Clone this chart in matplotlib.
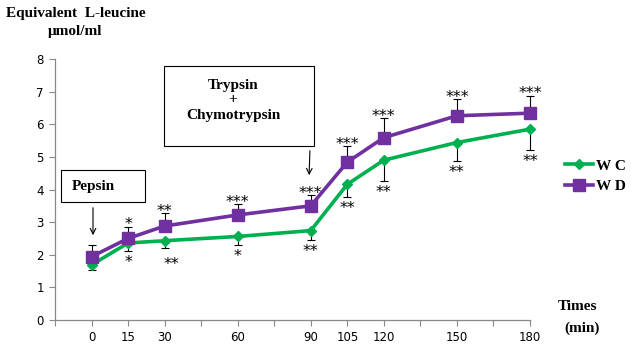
import numpy as np
import matplotlib
matplotlib.use("Agg")
import matplotlib.pyplot as plt
from matplotlib.patches import Rectangle

# Sampling times (min)
times = [0, 15, 30, 60, 90, 105, 120, 150, 180]

# Equivalent L-leucine (umol/ml)
wc = [1.69, 2.36, 2.43, 2.56, 2.74, 4.16, 4.90, 5.44, 5.85]
wd = [1.94, 2.50, 2.88, 3.22, 3.50, 4.84, 5.59, 6.26, 6.34]

# error bars: WC drawn downward, WD drawn upward
wc_err = [0.16, 0.24, 0.22, 0.27, 0.29, 0.40, 0.64, 0.56, 0.64]
wd_err = [0.37, 0.36, 0.39, 0.33, 0.33, 0.50, 0.60, 0.51, 0.54]

# significance marks
wc_sig = ["", "*", "**", "*", "**", "**", "**", "**", "**"]
wd_sig = ["", "*", "**", "***", "***", "***", "***", "***", "***"]

GREEN = "#00b050"
PURPLE = "#7030a0"
serif = ["Liberation Serif", "DejaVu Serif"]
W, H = 631.0, 349.0

fig = plt.figure(figsize=(6.31, 3.49), dpi=100)
ax = fig.add_axes([55 / W, 1 - 320 / H, 475 / W, 261 / H])

zeros = [0] * len(times)
for eb in (
    ax.errorbar(times, wc, yerr=[wc_err, zeros], fmt="none", ecolor="black",
                elinewidth=0.8, capsize=3, capthick=0.8, zorder=2),
    ax.errorbar(times, wd, yerr=[zeros, wd_err], fmt="none", ecolor="black",
                elinewidth=0.8, capsize=3, capthick=0.8, zorder=2),
):
    for art in eb.lines[1] + eb.lines[2]:
        art.set_clip_on(False)

ax.plot(times, wc, color=GREEN, lw=2.6, marker="D", ms=5.5, mec=GREEN,
        label="W C", zorder=3, clip_on=False)
ax.plot(times, wd, color=PURPLE, lw=2.6, marker="s", ms=8, mec=PURPLE,
        label="W D", zorder=4, clip_on=False)

# stars
for i, t in enumerate(times):
    if wd_sig[i]:
        ax.annotate(wd_sig[i], (t, wd[i] + wd_err[i]), xytext=(0, -2),
                    textcoords="offset points", ha="center", va="baseline",
                    fontsize=11.5, annotation_clip=False)
    if wc_sig[i]:
        dx, dy = (0, -11.5)
        if t == 30:
            dx, dy = (5, -15.5)
        ax.annotate(wc_sig[i], (t, wc[i] - wc_err[i]), xytext=(dx, dy),
                    textcoords="offset points", ha="center", va="baseline",
                    fontsize=11.5, annotation_clip=False)

ax.set_xlim(-15, 180)
ax.set_ylim(0, 8)
xt = list(range(-15, 181, 15))
ax.set_xticks(xt)
ax.set_xticklabels([str(v) if v in times else "" for v in xt])
ax.set_yticks(range(0, 9))
ax.tick_params(direction="out", length=4, width=0.8, color="#888888",
               labelsize=8.5, pad=4)
for s in ["top", "right"]:
    ax.spines[s].set_visible(False)
for s in ["left", "bottom"]:
    ax.spines[s].set_color("#888888")
    ax.spines[s].set_linewidth(0.9)

# enzyme boxes and arrows
fig.patches.append(Rectangle((61 / W, 1 - 202 / H), 84 / W, 32 / H,
                             transform=fig.transFigure, fc="white",
                             ec="black", lw=0.8, zorder=5))
fig.text(72 / W, 1 - 186 / H, "Pepsin", fontsize=11, fontweight="bold",
         family=serif, va="center", ha="left", zorder=6)
fig.patches.append(Rectangle((164 / W, 1 - 146 / H), 150 / W, 80 / H,
                             transform=fig.transFigure, fc="white",
                             ec="black", lw=0.8, zorder=5))
fig.text(233 / W, 1 - 100 / H, "Trypsin\n+\nChymotrypsin", fontsize=11,
         fontweight="bold", family=serif, va="center", ha="center",
         linespacing=1.2, zorder=6)
ax.annotate("", xy=(93 / W, 1 - 238 / H), xytext=(93 / W, 1 - 205 / H),
            xycoords="figure fraction",
            arrowprops=dict(arrowstyle="->", color="black", lw=0.8))
ax.annotate("", xy=(309 / W, 1 - 178 / H), xytext=(310 / W, 1 - 148 / H),
            xycoords="figure fraction",
            arrowprops=dict(arrowstyle="->", color="black", lw=0.8))

fig.legend(loc="upper left", bbox_to_anchor=(565 / W, 1 - 159 / H),
           frameon=False, borderpad=0, borderaxespad=0,
           handlelength=1.85, handletextpad=0.15, labelspacing=0.45,
           prop=dict(family=serif, weight="bold", size=11))

fig.text(76 / W, 1 - 14 / H, "Equivalent  L-leucine", ha="center",
         va="center", fontsize=11, fontweight="bold", family=serif)
fig.text(75 / W, 1 - 32 / H, "\u03bcmol/ml", ha="center",
         va="center", fontsize=11, fontweight="bold", family=serif)
fig.text(577 / W, 1 - 306 / H, "Times", ha="center", va="center",
         fontsize=11, fontweight="bold", family=serif)
fig.text(582 / W, 1 - 328 / H, "(min)", ha="center", va="center",
         fontsize=11, fontweight="bold", family=serif)

fig.savefig("out.png", dpi=100)
